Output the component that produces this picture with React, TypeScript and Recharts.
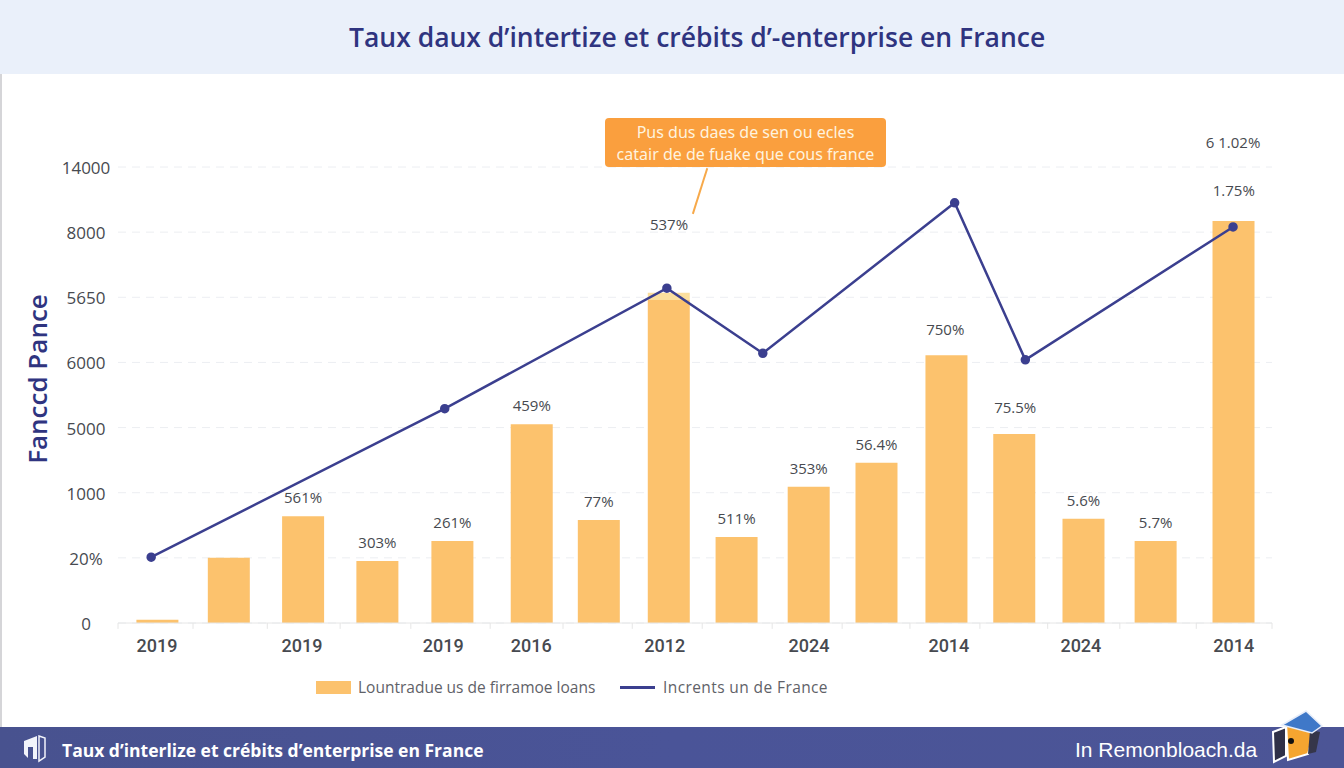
import { Bar, CartesianGrid, ComposedChart, LabelList, Legend, Line, ReferenceDot, ReferenceLine, XAxis, YAxis } from "recharts";

const INK = "#2f3480";
const LINE = "#3b3f8f";
const AMBER = "#fcc26d";
const TEXT = "#474a50";

// y axis runs on even steps, its printed labels are not in order
const yLabels = ["0", "20%", "1000", "5000", "6000", "5650", "8000", "14000"];
const ySteps = [0, 1, 2, 3, 4, 5, 6, 7];

const barSlots = [0.54, 1.53, 2.56, 3.59, 4.63, 5.73, 6.66, 7.63, 8.57, 9.57, 10.51, 11.48, 12.42, 13.38, 14.38, 15.46];
const barValues = [0.05, 1.0, 1.64, 0.95, 1.26, 3.05, 1.58, 4.96, 1.32, 2.09, 2.46, 4.11, 2.9, 1.6, 1.26, 6.17];
const barCaps = [0, 0, 0, 0, 0, 0, 0, 0.11, 0, 0, 0, 0, 0, 0, 0, 0];
const barPct = ["", "", "561%", "303%", "261%", "459%", "77%", "", "511%", "353%", "56.4%", "", "", "5.6%", "5.7%", ""];

// labels that sit higher above their bar than the rest
const floatSlots = [7.64, 11.47, 12.44, 15.47, 15.46];
const floatLevels = [6.12, 4.5, 3.3, 6.63, 7.37];
const floatLabels = ["537%", "750%", "75.5%", "1.75%", "6 1.02%"];

const lineSlots = [0.46, 4.53, 7.61, 8.94, 11.6, 12.58, 15.46];
const lineValues = [1.01, 3.29, 5.14, 4.14, 6.45, 4.04, 6.08];

const yearSlots = [0.54, 2.55, 4.51, 5.73, 7.58, 9.58, 11.52, 13.35, 15.47];
const yearLabels = ["2019", "2019", "2019", "2016", "2012", "2024", "2014", "2024", "2014"];
const bandEdges = [0, 1.04, 2.07, 3.08, 4.06, 5.16, 6.17, 7.13, 8.1, 9.07, 10.04, 10.98, 11.95, 12.89, 13.89, 14.95, 16];

const barRows = barSlots.map((slot, i) => ({ slot, value: barValues[i], cap: barCaps[i], pct: barPct[i] }));
const lineRows = lineSlots.map((slot, i) => ({ slot, rate: lineValues[i] }));

const title = "Taux daux d\u2019intertize et crébits d\u2019-enterprise en France";
const footer = "Taux d\u2019interlize et crébits d\u2019enterprise en France";

function YTick({ x, y, payload }: any) {
  return (
    <text x={x - 24} y={y + 7} textAnchor="middle" fontFamily="Open Sans" fontSize={17} fill={TEXT}>
      {yLabels[payload.value]}
    </text>
  );
}

function XTick({ x, y, payload }: any) {
  const at = yearSlots.indexOf(payload.value);
  return (
    <text x={x} y={y + 21} textAnchor="middle" fontFamily="Roboto" fontWeight={500} fontSize={18} fill={TEXT}>
      {yearLabels[at]}
    </text>
  );
}

function ChartLegend() {
  return (
    <div style={{ display: "flex", alignItems: "center", fontFamily: "Open Sans", fontSize: 15.5, color: "#5f6268", paddingLeft: 316, height: 20 }}>
      <span style={{ width: 35, height: 13, background: AMBER, marginRight: 7 }} />
      <span style={{ width: 262 }}>Lountradue us de firramoe loans</span>
      <span style={{ width: 35, height: 3, background: LINE, marginRight: 8 }} />
      <span style={{ letterSpacing: 0.4 }}>Incrents un de France</span>
    </div>
  );
}

function Chart() {
  return (
    <ComposedChart width={1344} height={768} data={barRows} margin={{ top: 167, right: 72, bottom: 85, left: 0 }}>
      <CartesianGrid vertical={false} stroke="#eceef2" strokeDasharray="8 6" />
      <XAxis
        dataKey="slot"
        type="number"
        domain={[0, 16]}
        ticks={yearSlots}
        tick={<XTick />}
        tickLine={false}
        axisLine={{ stroke: "#e6e6e6" }}
        height={40}
        interval={0}
      />
      <XAxis xAxisId="rate" dataKey="slot" type="number" domain={[0, 16]} hide />
      <YAxis
        type="number"
        domain={[0, 7]}
        ticks={ySteps}
        tick={<YTick />}
        tickLine={false}
        axisLine={false}
        width={118}
        interval={0}
        label={{ value: "Fanccd Pance", angle: -90, position: "insideLeft", dx: 33, dy: -16, style: { fontFamily: "Open Sans", fontWeight: 600, fontSize: 26, fill: INK, textAnchor: "middle" } }}
      />
      <Legend verticalAlign="bottom" content={<ChartLegend />} wrapperStyle={{ bottom: 71 }} />
      {bandEdges.map((edge) => (
        <ReferenceLine key={edge} segment={[{ x: edge, y: 0 }, { x: edge, y: -0.09 }]} stroke="#e6e6e6" ifOverflow="visible" />
      ))}
      <Bar dataKey="value" stackId="a" name="Lountradue us de firramoe loans" fill={AMBER} barSize={42} isAnimationActive={false}>
        <LabelList dataKey="pct" position="top" offset={13} fontFamily="Open Sans" fontSize={15} fill={TEXT} />
      </Bar>
      <Bar dataKey="cap" stackId="a" legendType="none" fill="#fbdf9e" barSize={42} isAnimationActive={false} />
      <Line xAxisId="rate" data={lineRows} dataKey="rate" name="Incrents un de France" stroke={LINE} strokeWidth={2.5} dot={{ r: 3.5, fill: LINE, stroke: LINE }} isAnimationActive={false} />
      <ReferenceLine
        segment={[{ x: 8.17, y: 6.98 }, { x: 7.97, y: 6.28 }]}
        stroke="#f7a94a"
        strokeWidth={2}
        ifOverflow="visible"
      />
      {floatLabels.map((text, i) => (
        <ReferenceDot key={text} x={floatSlots[i]} y={floatLevels[i]} r={0} ifOverflow="visible" label={{ value: text, fontFamily: "Open Sans", fontSize: 15, fill: TEXT }} />
      ))}
    </ComposedChart>
  );
}

export default function App() {
  return (
    <div style={{ position: "relative", width: 1344, height: 768, overflow: "hidden", background: "#fff" }}>
      <style>{"body{margin:0}"}</style>
      <div style={{ position: "absolute", left: 0, top: 0, width: 1344, height: 74, boxSizing: "border-box", paddingLeft: 349, background: "#eaf0fa", lineHeight: "74px", fontFamily: "Open Sans", fontWeight: 600, fontSize: 26.5, color: INK }}>
        {title}
      </div>
      <div style={{ position: "absolute", left: 0, top: 74, width: 1.5, height: 653, background: "#d5d5d8" }} />
      <div style={{ position: "absolute", left: 0, top: 0 }}>
        <Chart />
      </div>
      <div style={{ position: "absolute", left: 605, top: 118, width: 281, height: 49, boxSizing: "border-box", background: "#fa9f3e", borderRadius: 4, color: "#fff3df", fontFamily: "Noto Sans", fontSize: 16, lineHeight: "22px", textAlign: "center", paddingTop: 3 }}>
        Pus dus daes de sen ou ecles
        <br />
        catair de de fuake que cous france
      </div>
      <div style={{ position: "absolute", left: 0, top: 727, width: 1344, height: 41, background: "linear-gradient(90deg,#48528f,#4a5498 50%,#4c5596)" }}>
        <svg width="30" height="30" viewBox="0 0 30 30" style={{ position: "absolute", left: 21, top: 6 }}>
          <path d="M3 8 L16 3 L16 26 L12 26 L12 14 L7 14 L7 25 L3 21 Z" fill="#f2f4fb" />
          <path d="M18 3 L24 5 L24 24 L18 28 Z" fill="none" stroke="#f2f4fb" strokeWidth="1.5" />
        </svg>
        <div style={{ position: "absolute", left: 62, top: 0, lineHeight: "46px", fontFamily: "Open Sans", fontWeight: 700, fontSize: 17.5, color: "#fff" }}>{footer}</div>
        <div style={{ position: "absolute", left: 1075, top: 0, lineHeight: "46px", fontFamily: "Liberation Sans", fontSize: 21, color: "#fff" }}>In Remonbloach.da</div>
      </div>
      <svg width="60" height="60" viewBox="0 0 60 60" style={{ position: "absolute", left: 1270, top: 708 }}>
        <path d="M3 24 L16 19 L16 48 L4 54 Z" fill="#2f3047" stroke="#fff" strokeWidth="2" />
        <path d="M16 14 L44 24 L38 46 L18 52 Z" fill="#f5a530" stroke="#fff" strokeWidth="2" />
        <path d="M40 22 L50 24 L46 44 L38 46 Z" fill="#35364a" />
        <path d="M12 17 L36 3 L52 18 L42 25 Z" fill="#3f78c8" stroke="#e8eefa" strokeWidth="1.5" />
        <circle cx="21" cy="33" r="3" fill="#111" />
      </svg>
    </div>
  );
}
